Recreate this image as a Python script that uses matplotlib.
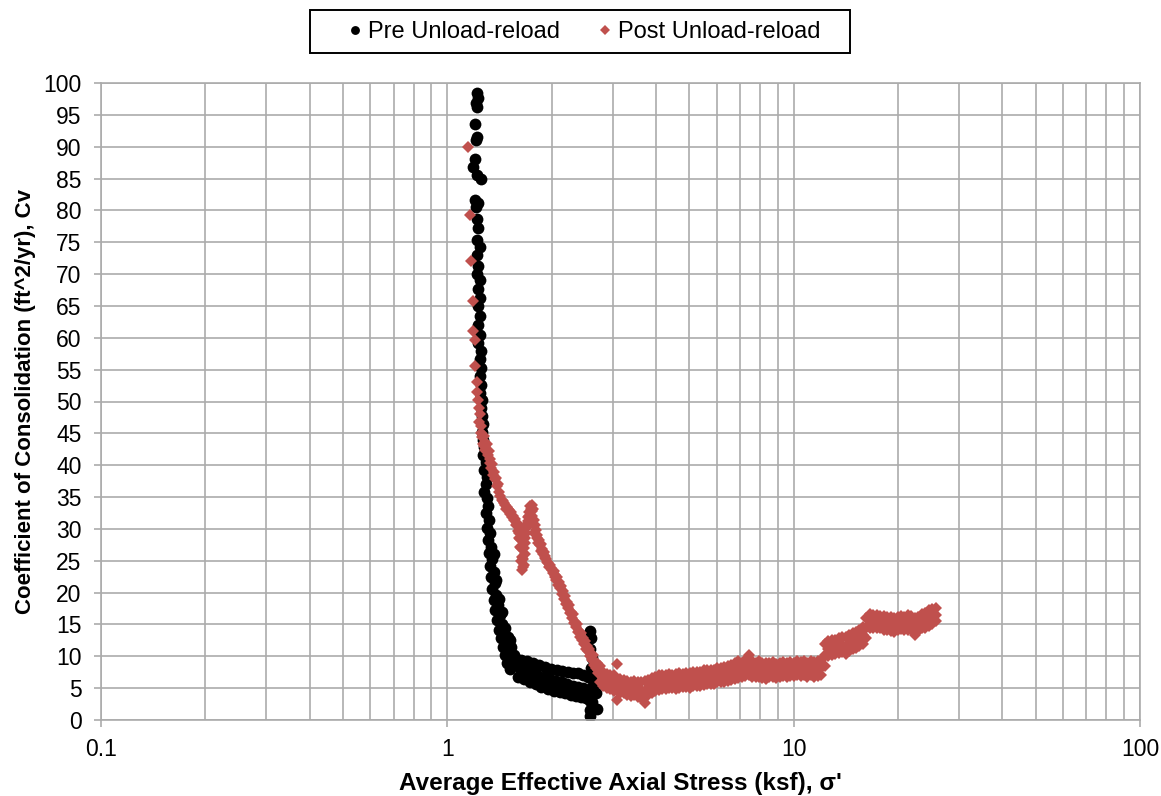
import matplotlib
matplotlib.use("Agg")
import matplotlib.pyplot as plt
from matplotlib.patches import Rectangle
from matplotlib.ticker import FixedLocator, NullFormatter, FixedFormatter

plt.rcParams['font.family'] = ['Liberation Sans', 'DejaVu Sans']

# ---------------- data ----------------
pre_x = [1.22, 1.23, 1.21, 1.22, 1.20, 1.22, 1.21, 1.20, 1.19, 1.22, 1.25, 1.20, 1.23, 1.21,
         1.22, 1.23, 1.22, 1.24, 1.22, 1.23, 1.22, 1.24, 1.23, 1.24, 1.23, 1.24, 1.23, 1.24,
         1.23, 1.25, 1.24, 1.25, 1.24, 1.25, 1.24, 1.26, 1.25, 1.26, 1.27, 1.26, 1.27, 1.28,
         1.27, 1.29, 1.28, 1.30, 1.29, 1.28, 1.30, 1.31, 1.29, 1.32, 1.30, 1.33, 1.31, 1.34,
         1.32, 1.35, 1.33, 1.36, 1.34, 1.37, 1.35, 1.38, 1.36, 1.40, 1.37, 1.42, 1.39, 1.44,
         1.41, 1.46, 1.43, 1.48, 1.45, 1.50, 1.47, 1.52, 1.49, 1.55, 1.52,
         1.58, 1.60, 1.63, 1.66, 1.70, 1.73, 1.77, 1.80, 1.84, 1.87, 1.91, 1.95, 1.99, 2.03,
         2.07, 2.11, 2.15, 2.19, 2.23, 2.27, 2.31, 2.35, 2.39, 2.43, 2.47, 2.51, 2.55, 2.58,
         2.59, 2.60, 2.59, 2.61, 2.60, 2.62, 2.60, 2.61, 2.59, 2.59, 2.71, 2.68, 2.70,
         1.62, 1.68, 1.75, 1.82, 1.90, 1.98, 2.06, 2.14, 2.22, 2.30, 2.38, 2.46,
         1.64, 1.71, 1.78, 1.86, 1.94, 2.02, 2.10, 2.18, 2.26, 2.34, 2.42, 2.50, 2.56,
         1.36, 1.38, 1.41, 1.44, 1.47, 1.50, 1.53, 1.56, 1.52, 1.57]
pre_y = [98.5, 97.6, 96.8, 96.2, 93.5, 91.6, 91.0, 88.0, 86.8, 85.6, 85.0, 81.6, 81.2, 80.5,
         78.6, 77.2, 75.4, 74.3, 73.0, 71.3, 70.0, 69.0, 67.6, 66.3, 65.0, 63.4, 62.0, 60.5,
         59.2, 58.0, 56.6, 55.3, 54.0, 52.6, 51.4, 50.2, 49.0, 47.7, 46.4, 45.2, 44.0, 42.8,
         41.6, 40.5, 39.3, 38.2, 37.0, 35.8, 34.8, 33.6, 32.5, 31.4, 30.2, 29.3, 28.2, 27.2,
         26.2, 25.2, 24.2, 23.3, 22.4, 21.5, 20.6, 19.7, 18.8, 18.0, 17.2, 16.5, 15.7, 15.0,
         14.2, 13.6, 12.8, 12.2, 11.4, 10.9, 10.2, 9.6, 9.0, 8.6, 8.0,
         9.6, 6.8, 9.4, 6.4, 9.2, 6.0, 8.9, 5.6, 8.6, 5.2, 8.3, 4.9, 8.0, 4.6,
         7.9, 4.4, 7.7, 4.2, 7.5, 4.0, 7.3, 3.8, 7.3, 3.6, 7.0, 3.4, 6.8, 3.0,
         14.0, 12.8, 11.2, 9.8, 8.2, 6.5, 5.0, 2.8, 1.6, 0.6, 1.8, 4.2, 6.0,
         8.2, 7.9, 7.5, 7.1, 6.7, 6.4, 6.2, 5.9, 5.6, 5.4, 5.2, 5.0,
         7.6, 7.2, 6.9, 6.5, 6.2, 5.9, 5.6, 5.4, 5.1, 4.9, 4.7, 4.5, 4.3,
         26.0, 22.0, 19.0, 17.0, 14.5, 13.0, 11.5, 10.2, 12.6, 9.8]

post_x = [1.150, 1.165, 1.170, 1.188, 1.190, 1.200, 1.205, 1.215, 1.222, 1.228, 1.232, 1.240,
          1.236, 1.248, 1.252, 1.262, 1.268, 1.280, 1.288, 1.300, 1.315, 1.330, 1.345, 1.360,
          1.380, 1.400, 1.420, 1.450, 1.470, 1.490, 1.510, 1.530, 1.550, 1.570, 1.585, 1.600,
          1.612, 1.620, 1.632, 1.640, 1.650, 1.660, 1.672, 1.680, 1.692, 1.700, 1.712, 1.725,
          1.740, 1.755, 1.770, 1.760, 1.778, 1.790, 1.800, 1.820, 1.840, 1.860, 1.880, 1.900,
          1.920, 1.930, 1.955, 1.980, 2.000, 2.030, 2.050, 2.080, 2.100, 2.130, 2.160, 2.190,
          2.220, 2.250, 2.280, 2.310, 2.340, 2.370, 2.400, 2.430, 2.460, 2.500, 2.530, 2.570,
          2.600, 2.630, 2.660, 2.700, 2.720,
          1.275, 1.295, 1.310, 1.325, 1.340, 1.355, 1.370, 1.390, 1.410, 1.435, 1.460, 1.480,
          1.500, 1.520, 1.540, 1.560, 1.580, 1.595, 1.608, 1.625, 1.636, 1.645, 1.656, 1.665,
          1.676, 1.688, 1.705, 1.720, 1.735, 1.750, 1.765, 1.785, 1.810, 1.830, 1.850, 1.870,
          1.890, 1.910, 1.940, 1.970, 1.990, 2.015, 2.040, 2.065, 2.090, 2.115, 2.145, 2.175,
          2.205, 2.235, 2.265, 2.295, 2.325, 2.355, 2.385, 2.415, 2.445, 2.480, 2.515, 2.550,
          2.585, 2.615, 2.645, 2.680, 2.730,
          2.754, 2.754, 2.818, 2.818, 2.884, 2.884, 2.951, 2.951, 3.020, 3.020, 3.090, 3.090,
          3.162, 3.162, 3.236, 3.236, 3.311, 3.311, 3.388, 3.388, 3.467, 3.467, 3.548, 3.548,
          3.631, 3.631, 3.715, 3.715, 3.802, 3.802, 3.890, 3.890, 3.981, 3.981, 4.074, 4.074,
          4.169, 4.169, 4.266, 4.266, 4.365, 4.365, 4.467, 4.467, 4.571, 4.571, 4.677, 4.677,
          4.786, 4.786, 4.898, 4.898, 5.012, 5.012, 5.129, 5.129, 5.248, 5.248, 5.370, 5.370,
          5.495, 5.495, 5.623, 5.623, 5.754, 5.754, 5.888, 5.888, 6.026, 6.026, 6.166, 6.166,
          6.310, 6.310, 6.457, 6.457, 6.607, 6.607, 6.761, 6.761, 6.918, 6.918, 7.079, 7.079,
          7.244, 7.244, 7.413, 7.413, 7.586, 7.586, 7.762, 7.762, 7.943, 7.943, 8.128, 8.128,
          8.318, 8.318, 8.511, 8.511, 8.710, 8.710, 8.913, 8.913, 9.120, 9.120, 9.333, 9.333,
          9.550, 9.550, 9.772, 9.772, 10.00, 10.00, 10.23, 10.23, 10.47, 10.47, 10.72, 10.72,
          10.96, 10.96, 11.22, 11.22, 11.48, 11.48, 11.75, 11.75, 12.02, 12.02, 12.30, 12.30,
          12.59, 12.59, 12.88, 12.88, 13.18, 13.18, 13.49, 13.49, 13.80, 13.80, 14.13, 14.13,
          14.45, 14.45, 14.79, 14.79, 15.14, 15.14, 15.49, 15.49, 15.85, 15.85, 16.22, 16.22,
          16.60, 16.60, 16.98, 16.98, 17.38, 17.38, 17.78, 17.78, 18.20, 18.20, 18.62, 18.62,
          19.05, 19.05, 19.50, 19.50, 19.95, 19.95, 20.42, 20.42, 20.89, 20.89, 21.38, 21.38,
          21.88, 21.88, 22.39, 22.39, 22.91, 22.91, 23.44, 23.44, 23.99, 23.99, 24.55, 24.55,
          25.12, 25.12, 25.70, 25.70,
          2.754, 2.818, 2.884, 2.951, 3.020, 3.090, 3.162, 3.236, 3.311, 3.388, 3.467, 3.548,
          3.631, 3.715, 3.802, 3.890, 3.981, 4.074, 4.169, 4.266, 4.365, 4.467, 4.571, 4.677,
          4.786, 4.898, 5.012, 5.129, 5.248, 5.370, 5.495, 5.623, 5.754, 5.888, 6.026, 6.166,
          6.310, 6.457, 6.607, 6.761, 6.918, 7.079, 7.244, 7.413, 7.586, 7.762, 7.943, 8.128,
          8.318, 8.511, 8.710, 8.913, 9.120, 9.333, 9.550, 9.772, 10.00, 10.23, 10.47, 10.72,
          10.96, 11.22, 11.48, 11.75, 12.02, 12.30, 12.59, 12.88, 13.18, 13.49, 13.80, 14.13,
          14.45, 14.79, 15.14, 15.49, 15.85, 16.22, 16.60, 16.98, 17.38, 17.78, 18.20, 18.62,
          19.05, 19.50, 19.95, 20.42, 20.89, 21.38, 21.88, 22.39, 22.91, 23.44, 23.99, 24.55,
          25.12, 25.70]
post_y = [90.0, 79.3, 72.0, 65.7, 61.0, 59.6, 55.6, 53.0, 51.5, 50.2, 49.0, 48.0,
          46.8, 46.2, 45.0, 44.4, 43.4, 43.0, 42.4, 43.4, 42.2, 41.0, 40.2, 39.0,
          38.0, 37.0, 35.2, 34.4, 33.8, 33.4, 33.0, 32.6, 32.0, 31.6, 31.0, 30.4,
          29.4, 28.4, 27.0, 25.6, 24.0, 24.4, 26.0, 27.8, 29.4, 30.8, 31.8, 32.6,
          33.2, 33.8, 33.2, 32.0, 31.4, 30.6, 29.8, 29.0, 28.2, 27.6, 26.8, 26.4,
          25.8, 25.2, 24.6, 24.4, 23.6, 23.4, 22.8, 22.4, 21.6, 21.0, 20.2, 19.4,
          18.6, 18.0, 17.0, 16.6, 15.4, 15.0, 14.0, 13.6, 12.8, 12.4, 11.6, 11.2,
          10.2, 10.2, 9.2, 9.0, 7.8,
          44.6, 42.6, 41.6, 40.4, 39.6, 38.4, 37.8, 36.8, 35.8, 34.6, 34.0, 33.2,
          33.2, 32.4, 31.8, 31.4, 30.6, 29.6, 28.6, 27.2, 25.0, 23.6, 25.2, 27.0,
          28.6, 30.2, 31.2, 32.0, 33.6, 32.8, 30.8, 29.4, 28.6, 27.8, 27.4, 26.6,
          26.0, 25.4, 24.8, 24.0, 23.8, 23.0, 22.4, 22.0, 21.2, 20.8, 19.8, 19.0,
          18.2, 17.6, 16.8, 16.0, 15.2, 14.6, 13.8, 13.0, 12.6, 12.0, 11.2, 10.8,
          10.0, 9.4, 8.6, 8.2, 7.4,
          8.4, 6.0, 7.6, 5.4, 7.2, 5.0, 7.0, 4.8, 7.0, 4.6, 8.8, 3.2,
          6.4, 4.2, 6.3, 4.3, 6.2, 4.0, 6.0, 3.8, 6.1, 3.9, 6.0, 3.6,
          5.9, 3.5, 6.2, 2.6, 6.3, 4.0, 6.6, 4.3, 6.8, 4.6, 7.0, 4.7,
          7.0, 4.9, 7.1, 4.8, 7.2, 5.0, 7.1, 5.0, 7.2, 4.9, 7.3, 5.1,
          7.2, 5.2, 7.4, 5.2, 7.4, 5.1, 7.5, 5.3, 7.5, 5.4, 7.6, 5.4,
          7.8, 5.5, 7.8, 5.6, 7.9, 5.7, 7.9, 5.6, 8.2, 5.9, 8.2, 6.0,
          8.3, 6.0, 8.4, 6.2, 8.6, 6.3, 9.0, 6.5, 9.2, 6.6, 9.0, 6.7,
          9.4, 6.9, 10.2, 7.0, 9.2, 6.8, 9.0, 6.8, 9.2, 6.8, 9.0, 6.6,
          9.0, 6.5, 9.0, 6.8, 9.1, 6.7, 8.8, 6.6, 9.0, 6.7, 9.1, 6.9,
          9.0, 6.8, 9.1, 6.9, 9.0, 6.9, 9.2, 7.0, 9.1, 6.9, 9.2, 7.0,
          9.0, 6.8, 9.2, 7.0, 9.1, 6.8, 9.2, 6.9, 9.4, 7.1, 12.0, 8.5,
          12.4, 10.0, 12.5, 10.2, 12.6, 10.3, 12.8, 10.5, 13.0, 10.6, 13.0, 10.3,
          13.4, 10.9, 13.6, 11.2, 13.8, 11.3, 14.2, 11.6, 14.6, 12.0, 16.0, 12.8,
          16.6, 14.4, 16.5, 14.5, 16.5, 14.4, 16.4, 14.4, 16.3, 14.2, 16.2, 14.2,
          16.1, 14.0, 16.0, 13.8, 16.2, 14.2, 16.4, 14.3, 16.2, 14.1, 16.5, 14.2,
          16.4, 14.3, 16.0, 13.3, 16.2, 14.0, 16.6, 14.4, 16.8, 14.4, 17.2, 14.8,
          17.4, 15.0, 17.6, 15.5,
          7.2, 6.5, 6.1, 5.9, 5.8, 5.6, 5.3, 5.3, 5.1, 4.9, 5.0, 4.8,
          4.7, 4.6, 5.1, 5.5, 5.7, 5.9, 5.9, 6.0, 6.1, 6.0, 6.1, 6.2,
          6.2, 6.3, 6.3, 6.4, 6.5, 6.5, 6.6, 6.7, 6.8, 6.8, 7.0, 7.1,
          7.2, 7.3, 7.4, 7.7, 7.9, 7.9, 8.1, 8.5, 8.0, 7.9, 8.0, 7.8,
          7.7, 7.9, 7.9, 7.7, 7.8, 8.0, 7.9, 8.0, 7.9, 8.1, 8.0, 8.1,
          7.9, 8.1, 7.9, 8.0, 8.2, 10.2, 11.2, 11.3, 11.4, 11.6, 11.8, 11.6,
          12.1, 12.4, 12.5, 12.9, 13.3, 14.4, 15.5, 15.5, 15.4, 15.4, 15.2, 15.2,
          15.0, 14.9, 15.2, 15.3, 15.1, 15.3, 15.3, 14.6, 15.1, 15.5, 15.6, 16.0,
          16.2, 16.5]

x_ticks = [0.1, 1, 10, 100]
x_tick_labels = ["0.1", "1", "10", "100"]
y_ticks = list(range(0, 101, 5))

# ---------------- figure ----------------
W, H = 1161, 796
fig = plt.figure(figsize=(W / 100, H / 100), dpi=100)
ax = fig.add_axes([101 / W, 1 - 720 / H, (1140 - 101) / W, (720 - 83) / H])

grid_c = "#ABABAB"
ax.set_xscale("log")
ax.set_xlim(0.1, 100)
ax.set_ylim(0, 100)

ax.xaxis.set_major_locator(FixedLocator(x_ticks))
ax.xaxis.set_major_formatter(FixedFormatter(x_tick_labels))
minors = [m * 10.0 ** e for e in (-1, 0, 1) for m in range(2, 10)]
ax.xaxis.set_minor_locator(FixedLocator(minors))
ax.xaxis.set_minor_formatter(NullFormatter())
ax.yaxis.set_major_locator(FixedLocator(y_ticks))

ax.grid(True, which="major", color=grid_c, linewidth=1.2)
ax.grid(True, which="minor", axis="x", color=grid_c, linewidth=1.2)
ax.set_axisbelow(True)

for s in ax.spines.values():
    s.set_color(grid_c)
    s.set_linewidth(1.2)

ax.tick_params(axis="both", which="major", labelsize=16.5, color=grid_c, length=5,
               width=1.2, labelcolor="black")
ax.tick_params(axis="x", which="minor", length=0)
ax.tick_params(axis="x", which="major", pad=8)
ax.tick_params(axis="y", which="major", pad=9)

ax.plot(post_x, post_y, linestyle="none", marker="D", markersize=6.3,
        color="#C0504D", markeredgewidth=0, label="Post Unload-reload", zorder=3)
ax.plot(pre_x, pre_y, linestyle="none", marker="o", markersize=8.5,
        color="black", markeredgewidth=0, label="Pre Unload-reload", zorder=2)

ax.set_xlabel("Average Effective Axial Stress (ksf), σ'", fontsize=17.5,
              fontweight="bold", labelpad=8)
ax.set_ylabel("Coefficient of Consolidation (ft^2/yr), Cv", fontsize=16,
              fontweight="bold", labelpad=5)

# legend: entries without frame, frame drawn as a separate rectangle
handles, labels = ax.get_legend_handles_labels()
leg = fig.legend([handles[1], handles[0]], [labels[1], labels[0]],
                 loc="center", bbox_to_anchor=(585 / W, 1 - 32 / H), ncol=2,
                 fontsize=17, frameon=False,
                 handlelength=0.5, handletextpad=0.3, columnspacing=1.65,
                 borderpad=0.0, borderaxespad=0, markerscale=0.75)
fig.patches.append(Rectangle((310 / W, 1 - 53 / H), (850 - 310) / W, (53 - 10) / H,
                             transform=fig.transFigure, fill=False,
                             edgecolor="black", linewidth=1.4))

fig.savefig("out.png", dpi=100)
